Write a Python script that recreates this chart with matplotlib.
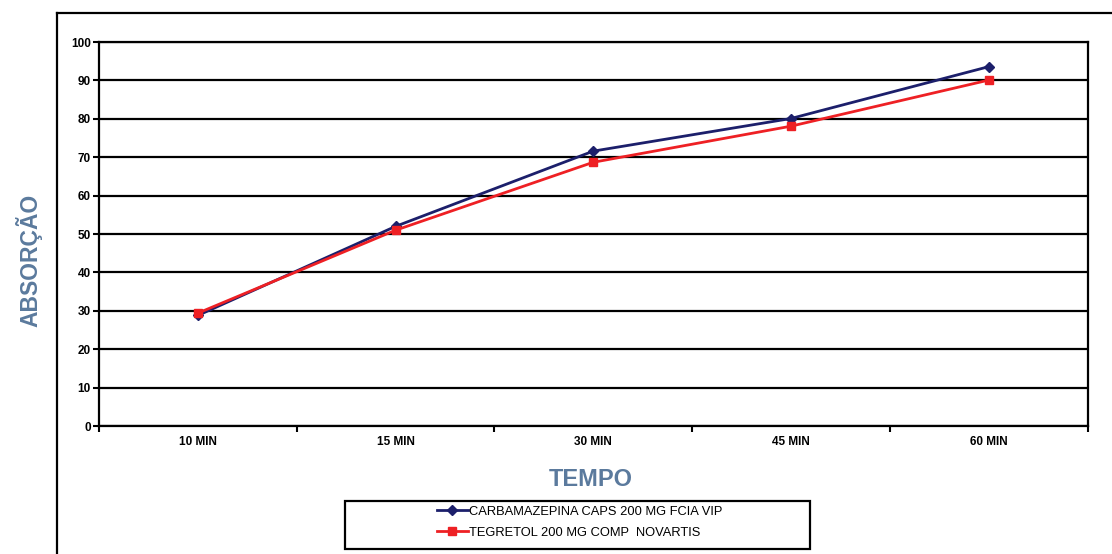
import matplotlib.pyplot as plt
from matplotlib.lines import Line2D
from matplotlib.patches import Rectangle
import numpy as np

# data
tempos = ['10 MIN', '15 MIN', '30 MIN', '45 MIN', '60 MIN']
carbamazepina = [28.8, 52.0, 71.6, 80.1, 93.6]
tegretol = [29.4, 51.0, 68.7, 78.1, 90.1]

plt.rcParams['font.family'] = ['Liberation Sans', 'DejaVu Sans']

fig = plt.figure(figsize=(11.12, 5.54), dpi=100)
ax = fig.add_axes([0.089, 0.231, 0.889, 0.693])

x = np.arange(len(tempos))
ax.plot(x, carbamazepina, color='#1c1f6b', lw=2, marker='D', ms=5.5,
        label='CARBAMAZEPINA CAPS 200 MG FCIA VIP', zorder=3)
ax.plot(x, tegretol, color='#ee2024', lw=2, marker='s', ms=6,
        label='TEGRETOL 200 MG COMP  NOVARTIS', zorder=4)

ax.set_xlim(-0.5, len(tempos) - 0.5)
ax.set_ylim(0, 100)
ax.set_yticks(range(0, 101, 10))
ax.yaxis.grid(True, color='black', lw=1.6)
ax.set_axisbelow(True)

ax.set_xticks(x)
ax.set_xticklabels(tempos)
ax.set_xticks(np.arange(-0.5, len(tempos)), minor=True)
ax.tick_params(axis='x', which='major', length=0, pad=7, labelsize=8.5)
ax.tick_params(axis='x', which='minor', length=4, width=1.5, direction='out')
ax.tick_params(axis='y', length=4, width=1.5, direction='out', labelsize=8.5, pad=2)
for lab in ax.get_xticklabels() + ax.get_yticklabels():
    lab.set_fontweight('bold')
for s in ax.spines.values():
    s.set_linewidth(1.6)
    s.set_color('black')

# axis titles
fig.text(0.531, 0.135, 'TEMPO', ha='center', va='center', fontsize=17,
         fontweight='bold', color='#5b7a9d')
fig.text(0.026, 0.53, 'ABSORÇÃO', ha='center', va='center', fontsize=16.5,
         fontweight='bold', color='#5b7a9d', rotation=90)

# outer frame (top and left edges)
fig.add_artist(Line2D([0.0513, 1.0], [0.9765, 0.9765], color='black', lw=1.6))
fig.add_artist(Line2D([0.0513, 0.0513], [0.9765, 0.0], color='black', lw=1.6))

# legend box
fig.add_artist(Rectangle((345 / 1112, 1 - 549 / 554), 465 / 1112, 48 / 554,
                         fill=False, ec='black', lw=1.6))
fig.legend(loc='center', bbox_to_anchor=(0.521, 0.057), frameon=False,
           fontsize=9.3, handlelength=2.4, handletextpad=0.1, labelspacing=0.7,
           borderpad=0)

fig.savefig('out.png', dpi=100)
